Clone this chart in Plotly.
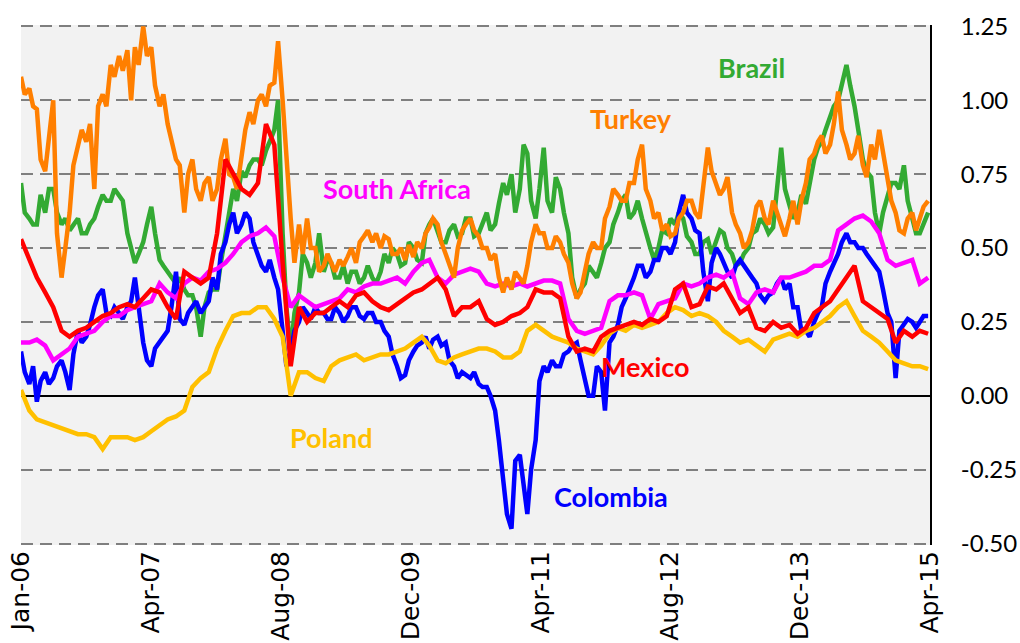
import pandas as pd
import plotly.graph_objects as go

# ---- categories (dates) ----
dates_monthly = pd.date_range("2006-01-01", periods=112, freq="MS")   # Jan-06 .. Apr-15
dates_half = pd.date_range("2006-01-01", periods=223, freq="SMS")     # 1st / 15th of month

# ---- noisy series, read twice a month ----
turkey = [
    1.08, 1.02, 1.04, 0.98, 0.97, 0.80, 0.76, 0.88, 1.00, 0.55, 0.40, 0.50,
    0.62, 0.78, 0.84, 0.90, 0.86, 0.92, 0.70, 0.98, 1.02, 0.98, 1.12, 1.08,
    1.15, 1.10, 1.17, 1.00, 1.18, 1.12, 1.25, 1.15, 1.18, 1.05, 0.98, 1.02,
    0.92, 0.86, 0.80, 0.78, 0.62, 0.75, 0.80, 0.70, 0.66, 0.72, 0.74, 0.66,
    0.70, 0.80, 0.87, 0.75, 0.74, 0.70, 0.80, 0.90, 0.96, 0.92, 1.00, 1.02,
    0.98, 1.05, 1.06, 1.20, 1.00, 0.80, 0.60, 0.45, 0.58, 0.48, 0.60, 0.50,
    0.50, 0.42, 0.44, 0.48, 0.45, 0.42, 0.46, 0.44, 0.47, 0.50, 0.45, 0.52,
    0.54, 0.56, 0.52, 0.55, 0.50, 0.54, 0.53, 0.48, 0.48, 0.50, 0.46, 0.51,
    0.47, 0.52, 0.50, 0.55, 0.57, 0.60, 0.58, 0.52, 0.48, 0.44, 0.40, 0.50,
    0.56, 0.58, 0.60, 0.56, 0.54, 0.50, 0.50, 0.46, 0.48, 0.40, 0.35, 0.40,
    0.36, 0.42, 0.40, 0.38, 0.44, 0.52, 0.58, 0.55, 0.55, 0.50, 0.50, 0.54,
    0.52, 0.48, 0.45, 0.38, 0.33, 0.35, 0.42, 0.48, 0.52, 0.50, 0.50, 0.60,
    0.64, 0.70, 0.68, 0.66, 0.66, 0.72, 0.72, 0.80, 0.85, 0.70, 0.66, 0.60,
    0.62, 0.56, 0.58, 0.54, 0.55, 0.60, 0.62, 0.66, 0.66, 0.62, 0.60, 0.72,
    0.84, 0.76, 0.72, 0.68, 0.70, 0.74, 0.62, 0.58, 0.55, 0.50, 0.52, 0.56,
    0.64, 0.66, 0.60, 0.58, 0.66, 0.62, 0.58, 0.54, 0.60, 0.66, 0.58, 0.66,
    0.72, 0.80, 0.82, 0.86, 0.88, 0.82, 0.85, 0.92, 1.03, 0.90, 0.85, 0.80,
    0.82, 0.88, 0.78, 0.74, 0.85, 0.80, 0.90, 0.82, 0.74, 0.66, 0.62, 0.56,
    0.55, 0.60, 0.62, 0.56, 0.60, 0.64, 0.66,
]
brazil = [
    0.72, 0.62, 0.60, 0.58, 0.58, 0.68, 0.62, 0.70, 0.70, 0.62, 0.58, 0.60,
    0.56, 0.58, 0.60, 0.55, 0.55, 0.58, 0.60, 0.64, 0.68, 0.66, 0.66, 0.70,
    0.68, 0.66, 0.55, 0.50, 0.45, 0.48, 0.52, 0.58, 0.64, 0.55, 0.46, 0.44,
    0.42, 0.40, 0.38, 0.40, 0.36, 0.34, 0.34, 0.30, 0.20, 0.30, 0.35, 0.36,
    0.36, 0.45, 0.55, 0.62, 0.70, 0.66, 0.76, 0.74, 0.78, 0.80, 0.80, 0.78,
    0.83, 0.86, 0.90, 1.00, 0.55, 0.30, 0.15, 0.28, 0.35, 0.48, 0.45, 0.40,
    0.45, 0.55, 0.42, 0.46, 0.45, 0.40, 0.40, 0.44, 0.38, 0.42, 0.42, 0.38,
    0.40, 0.44, 0.40, 0.38, 0.42, 0.48, 0.45, 0.50, 0.48, 0.44, 0.45, 0.52,
    0.50, 0.46, 0.45, 0.55, 0.58, 0.60, 0.55, 0.52, 0.52, 0.56, 0.58, 0.54,
    0.55, 0.60, 0.60, 0.54, 0.55, 0.58, 0.62, 0.56, 0.58, 0.65, 0.72, 0.68,
    0.75, 0.62, 0.70, 0.85, 0.82, 0.66, 0.60, 0.70, 0.84, 0.66, 0.62, 0.74,
    0.70, 0.62, 0.55, 0.40, 0.33, 0.36, 0.38, 0.44, 0.42, 0.40, 0.45, 0.50,
    0.52, 0.58, 0.62, 0.66, 0.68, 0.60, 0.62, 0.66, 0.60, 0.55, 0.50, 0.46,
    0.50, 0.56, 0.55, 0.60, 0.58, 0.62, 0.60, 0.54, 0.52, 0.48, 0.48, 0.52,
    0.53, 0.48, 0.52, 0.56, 0.55, 0.50, 0.48, 0.44, 0.45, 0.48, 0.50, 0.55,
    0.56, 0.60, 0.58, 0.55, 0.57, 0.70, 0.84, 0.70, 0.65, 0.60, 0.62, 0.68,
    0.65, 0.72, 0.80, 0.84, 0.86, 0.90, 0.95, 0.98, 1.00, 1.05, 1.12, 1.05,
    0.98, 0.90, 0.80, 0.76, 0.74, 0.62, 0.55, 0.62, 0.68, 0.72, 0.72, 0.70,
    0.78, 0.66, 0.60, 0.55, 0.55, 0.58, 0.62,
]
colombia = [
    0.15, 0.08, 0.04, 0.10, -0.02, 0.05, 0.08, 0.04, 0.06, 0.10, 0.12, 0.08,
    0.02, 0.14, 0.22, 0.18, 0.20, 0.24, 0.30, 0.34, 0.36, 0.28, 0.27, 0.30,
    0.28, 0.26, 0.30, 0.32, 0.40, 0.30, 0.18, 0.12, 0.10, 0.16, 0.18, 0.20,
    0.22, 0.30, 0.42, 0.26, 0.24, 0.28, 0.30, 0.32, 0.28, 0.30, 0.32, 0.40,
    0.36, 0.48, 0.52, 0.58, 0.62, 0.55, 0.58, 0.62, 0.60, 0.52, 0.48, 0.44,
    0.42, 0.46, 0.40, 0.36, 0.22, 0.10, 0.15, 0.22, 0.25, 0.30, 0.28, 0.26,
    0.30, 0.28, 0.28, 0.26, 0.26, 0.30, 0.28, 0.25, 0.27, 0.30, 0.30, 0.27,
    0.26, 0.28, 0.28, 0.25, 0.25, 0.22, 0.20, 0.14, 0.10, 0.06, 0.07, 0.12,
    0.15, 0.17, 0.18, 0.20, 0.16, 0.19, 0.20, 0.17, 0.18, 0.12, 0.10, 0.06,
    0.08, 0.07, 0.06, 0.08, 0.04, 0.03, 0.03, 0.00, -0.05, -0.15, -0.30, -0.40,
    -0.45, -0.22, -0.20, -0.30, -0.40, -0.25, -0.15, 0.05, 0.10, 0.08, 0.12, 0.10,
    0.10, 0.14, 0.15, 0.17, 0.18, 0.12, 0.05, 0.00, 0.00, 0.10, 0.08, -0.05,
    0.18, 0.20, 0.24, 0.30, 0.33, 0.36, 0.40, 0.44, 0.44, 0.40, 0.42, 0.46,
    0.46, 0.50, 0.50, 0.48, 0.52, 0.62, 0.68, 0.62, 0.60, 0.56, 0.55, 0.42,
    0.32, 0.45, 0.50, 0.48, 0.45, 0.42, 0.40, 0.44, 0.46, 0.44, 0.42, 0.40,
    0.38, 0.34, 0.32, 0.34, 0.35, 0.38, 0.40, 0.36, 0.38, 0.30, 0.30, 0.22,
    0.22, 0.20, 0.25, 0.28, 0.30, 0.38, 0.42, 0.45, 0.48, 0.52, 0.55, 0.52,
    0.52, 0.50, 0.50, 0.48, 0.46, 0.44, 0.42, 0.36, 0.28, 0.25, 0.06, 0.22,
    0.24, 0.26, 0.25, 0.23, 0.25, 0.27, 0.27,
]

# ---- smoother series, read monthly ----
south_africa = [
    0.18, 0.18, 0.19, 0.17, 0.12, 0.14, 0.16, 0.20, 0.21, 0.22, 0.25, 0.27,
    0.27, 0.29, 0.30, 0.31, 0.32, 0.38, 0.35, 0.33, 0.38, 0.40, 0.39, 0.42,
    0.43, 0.45, 0.48, 0.52, 0.54, 0.55, 0.57, 0.54, 0.40, 0.30, 0.34, 0.32,
    0.30, 0.31, 0.32, 0.33, 0.36, 0.35, 0.37, 0.38, 0.38, 0.39, 0.40, 0.38,
    0.42, 0.45, 0.46, 0.40, 0.38, 0.41, 0.42, 0.43, 0.42, 0.38, 0.37, 0.38,
    0.37, 0.38, 0.37, 0.38, 0.39, 0.39, 0.38, 0.26, 0.22, 0.21, 0.22, 0.23,
    0.32, 0.34, 0.34, 0.35, 0.34, 0.26, 0.31, 0.32, 0.33, 0.38, 0.37, 0.38,
    0.40, 0.41, 0.40, 0.42, 0.33, 0.31, 0.35, 0.36, 0.35, 0.40, 0.40, 0.41,
    0.42, 0.44, 0.44, 0.46, 0.56, 0.58, 0.60, 0.61, 0.59, 0.55, 0.46, 0.44,
    0.45, 0.46, 0.38, 0.40,
]
mexico = [
    0.53, 0.46, 0.40, 0.35, 0.30, 0.22, 0.20, 0.22, 0.23, 0.25, 0.27, 0.28,
    0.30, 0.31, 0.30, 0.33, 0.36, 0.35, 0.30, 0.26, 0.42, 0.40, 0.38, 0.40,
    0.55, 0.80, 0.75, 0.70, 0.68, 0.72, 0.92, 0.85, 0.45, 0.10, 0.30, 0.25,
    0.28, 0.28, 0.30, 0.32, 0.30, 0.34, 0.35, 0.32, 0.30, 0.29, 0.31, 0.33,
    0.35, 0.36, 0.38, 0.40, 0.36, 0.27, 0.30, 0.30, 0.32, 0.26, 0.24, 0.25,
    0.27, 0.28, 0.30, 0.36, 0.35, 0.35, 0.33, 0.20, 0.15, 0.16, 0.15, 0.20,
    0.22, 0.23, 0.24, 0.25, 0.24, 0.26, 0.25, 0.27, 0.36, 0.38, 0.30, 0.31,
    0.37, 0.36, 0.38, 0.33, 0.28, 0.30, 0.23, 0.22, 0.25, 0.23, 0.24, 0.21,
    0.23, 0.28, 0.30, 0.32, 0.36, 0.40, 0.44, 0.32, 0.30, 0.28, 0.26, 0.18,
    0.22, 0.20, 0.22, 0.21,
]
poland = [
    0.02, -0.05, -0.08, -0.09, -0.10, -0.11, -0.12, -0.13, -0.13, -0.14, -0.18, -0.14,
    -0.14, -0.14, -0.15, -0.14, -0.12, -0.10, -0.08, -0.07, -0.05, 0.03, 0.06, 0.08,
    0.16, 0.22, 0.27, 0.28, 0.28, 0.30, 0.30, 0.26, 0.20, 0.00, 0.08, 0.08,
    0.06, 0.05, 0.10, 0.12, 0.13, 0.14, 0.12, 0.13, 0.14, 0.14, 0.15, 0.16,
    0.18, 0.20, 0.17, 0.12, 0.11, 0.13, 0.14, 0.15, 0.16, 0.16, 0.15, 0.13,
    0.13, 0.15, 0.22, 0.24, 0.22, 0.20, 0.19, 0.18, 0.16, 0.15, 0.14, 0.17,
    0.21, 0.23, 0.22, 0.24, 0.23, 0.24, 0.25, 0.28, 0.30, 0.29, 0.27, 0.28,
    0.27, 0.25, 0.22, 0.20, 0.18, 0.19, 0.17, 0.15, 0.19, 0.20, 0.21, 0.20,
    0.22, 0.23, 0.25, 0.27, 0.30, 0.32, 0.27, 0.22, 0.20, 0.18, 0.15, 0.12,
    0.11, 0.10, 0.10, 0.09,
]

tick_labels = ["Jan-06", "Apr-07", "Aug-08", "Dec-09", "Apr-11", "Aug-12", "Dec-13", "Apr-15"]
y_ticks = [-0.5, -0.25, 0.0, 0.25, 0.5, 0.75, 1.0, 1.25]

for s in (turkey, brazil, colombia):
    assert len(s) == len(dates_half), len(s)
for s in (south_africa, mexico, poland):
    assert len(s) == len(dates_monthly), len(s)

# ---- styling ----
series = [
    ("Brazil", dates_half, brazil, "#33AA33"),
    ("Colombia", dates_half, colombia, "#0000FF"),
    ("Poland", dates_monthly, poland, "#FFC000"),
    ("South Africa", dates_monthly, south_africa, "#FF00FF"),
    ("Turkey", dates_half, turkey, "#FF7F00"),
    ("Mexico", dates_monthly, mexico, "#FF0000"),
]

axis_start = pd.Timestamp("2006-01-01")
axis_end = pd.Timestamp("2015-04-08")
step = (axis_end - axis_start) / (len(tick_labels) - 1)
tick_vals = [axis_start + step * i for i in range(len(tick_labels))]

fig = go.Figure()
for name, xs, vals, col in series:
    fig.add_trace(go.Scatter(x=xs, y=vals, mode="lines", name=name,
                             line=dict(color=col, width=4.5)))

labels = [
    ("Brazil", 0.843, 1.11, "#33AA33"),
    ("Turkey", 0.718, 0.94, "#FF7F00"),
    ("South Africa", 0.414, 0.70, "#FF00FF"),
    ("Mexico", 0.738, 0.098, "#FF0000"),
    ("Poland", 0.294, -0.14, "#FFC000"),
    ("Colombia", 0.649, -0.34, "#0000FF"),
]
for txt, xp, yv, col in labels:
    fig.add_annotation(x=xp, xref="paper", y=yv, yref="y", text=f"<b>{txt}</b>",
                       showarrow=False, font=dict(family="Lato", size=27, color=col))

fig.update_layout(
    width=1020, height=643,
    margin=dict(l=21, r=90, t=25, b=98, autoexpand=False),
    paper_bgcolor="white",
    plot_bgcolor="#F2F2F2",
    showlegend=False,
    font=dict(family="Lato", color="black"),
)
fig.update_xaxes(
    range=[axis_start, axis_end], automargin=False,
    tickvals=tick_vals, ticktext=tick_labels, tickangle=-90,
    tickfont=dict(family="DejaVu Sans", size=25, color="black"),
    showgrid=False, zeroline=False, showline=False, ticks="",
)
fig.update_yaxes(
    range=[-0.505, 1.255], side="right", automargin=False,
    tickvals=y_ticks, ticktext=[f"{v:.2f}" for v in y_ticks],
    tickfont=dict(family="Lato", size=24, color="black"),
    showgrid=True, gridcolor="#7F7F7F", gridwidth=2, griddash="12px,7px",
    zeroline=True, zerolinecolor="black", zerolinewidth=2,
    showline=True, linecolor="black", linewidth=2, mirror=False,
    ticks="", ticklabelstandoff=24,
)
fig.write_html(
    "out.html",
    config={"displayModeBar": False},
    post_script="document.body.style.margin='0';document.body.style.overflow='hidden';",
)
